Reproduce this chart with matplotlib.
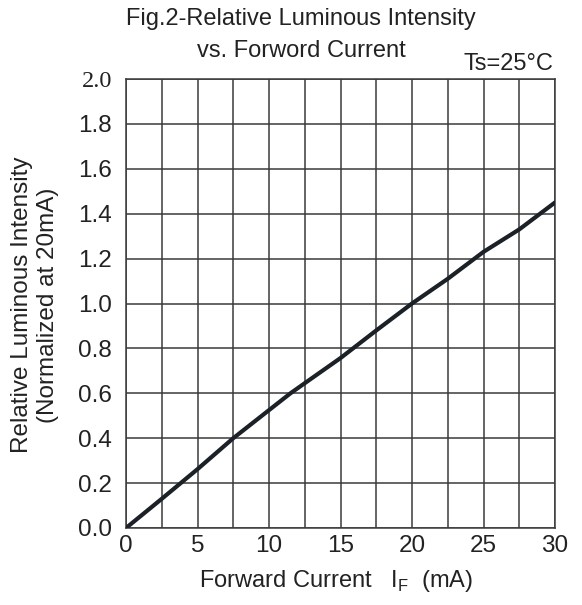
import matplotlib
matplotlib.use("Agg")
import matplotlib.pyplot as plt
import numpy as np

plt.rcParams['font.family'] = ['Liberation Sans', 'DejaVu Sans']

current_ma = [0, 2.5, 5, 7.5, 10, 11.5, 12.5, 15, 17.5, 20, 22.5, 25, 27.5, 30]
rel_intensity = [0, 0.13, 0.262, 0.40, 0.525, 0.60, 0.645, 0.757, 0.88, 1.0, 1.11, 1.23, 1.33, 1.45]
x_ticks = [0, 5, 10, 15, 20, 25, 30]
y_ticks = [0.0, 0.2, 0.4, 0.6, 0.8, 1.0, 1.2, 1.4, 1.6, 1.8, 2.0]
x_grid = np.arange(0, 30.01, 2.5)

fig = plt.figure(figsize=(5.82, 6.05), dpi=100)
ax = fig.add_axes([126/582, 1-528/605, (555-126)/582, (528-79)/605])

tc = '#222222'
for xv in x_grid:
    ax.axvline(xv, color='#3a3a3a', lw=1.1, zorder=1)
for yv in y_ticks:
    ax.axhline(yv, color='#3a3a3a', lw=1.1, zorder=1)

ax.plot(current_ma, rel_intensity, color='#1b2227', lw=3.0, zorder=3, solid_capstyle='round')

ax.set_xlim(0, 30)
ax.set_ylim(0, 2.0)
ax.set_xticks(x_ticks)
ax.set_xticklabels([str(v) for v in x_ticks])
ax.set_yticks(y_ticks)
ax.set_yticklabels([f"{v:.1f}" for v in y_ticks])
ax.tick_params(length=0, labelsize=17.5, colors=tc)
ax.tick_params(axis='x', pad=5)
ax.tick_params(axis='y', pad=10)
ax.get_yticklabels()[-1].set_family('Liberation Serif')
for s in ax.spines.values():
    s.set_color('#3a3a3a')
    s.set_linewidth(1.1)

fig.text(301/582, 1-19/605, 'Fig.2-Relative Luminous Intensity', ha='center', va='center', fontsize=17, color=tc)
fig.text(301/582, 1-51/605, 'vs. Forword Current', ha='center', va='center', fontsize=17, color=tc)
fig.text(553/582, 1-64/605, 'Ts=25°C', ha='right', va='center', fontsize=17, color=tc)

fig.text(22/582, 1-305/605, 'Relative Luminous Intensity', rotation=90, ha='center', va='center', fontsize=17.5, color=tc)
fig.text(48/582, 1-305/605, '(Normalized at 20mA)', rotation=90, ha='center', va='center', fontsize=17.5, color=tc)

fig.text(336/582, 1-581/605, r'Forward Current   I$_{\mathregular{F}}$  (mA)', ha='center', va='center', fontsize=17, color=tc)

fig.savefig('out.png', dpi=100)
